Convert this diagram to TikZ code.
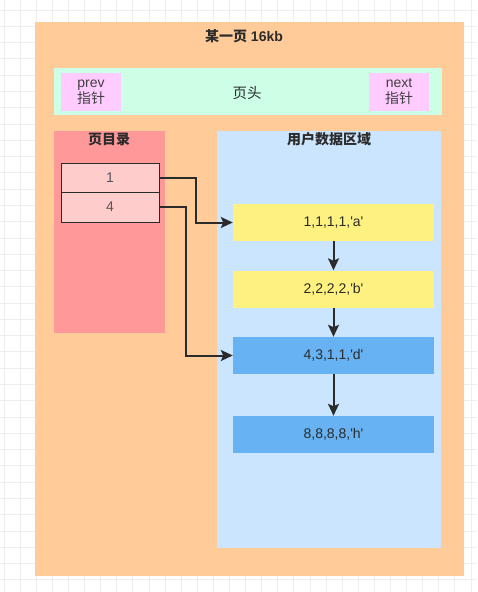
\documentclass[tikz,border=0pt]{standalone}
\usepackage{fontspec}
\setmainfont{Liberation Sans}
\newfontfamily\cjk{Noto Sans CJK SC}
\usetikzlibrary{arrows.meta}
\definecolor{pageorange}{HTML}{FFCC99}
\definecolor{headgreen}{HTML}{CCFFE6}
\definecolor{ptrpink}{HTML}{FFCCFF}
\definecolor{dirred}{HTML}{FF9999}
\definecolor{slotpink}{HTML}{FFCCCC}
\definecolor{userblue}{HTML}{CCE5FF}
\definecolor{rowyellow}{HTML}{FFF180}
\definecolor{rowblue}{HTML}{66B2F2}
\definecolor{inkgray}{HTML}{2B2B2B}
\newcommand{\q}{\textquotesingle}
\begin{document}
\begin{tikzpicture}[x=1pt,y=-1pt,
		area/.style={inner sep=0pt,minimum width=#1},
		ptrbox/.style={fill=ptrpink,inner sep=0pt,minimum width=60pt,minimum height=38pt,align=center,text=inkgray!90,font=\fontsize{14}{16}\selectfont},
		slot/.style={fill=slotpink,draw=inkgray,line width=0.9pt,inner sep=0pt,minimum width=98pt,text=inkgray!80,font=\fontsize{14}{16}\selectfont},
		row/.style={fill=#1,inner sep=0pt,minimum width=201pt,minimum height=37pt,text=inkgray,font=\fontsize{14}{16}\selectfont},
		title/.style={text=inkgray,font=\fontsize{14}{16}\selectfont\bfseries},
		link/.style={draw=inkgray,line width=2pt,-{Stealth[length=12pt,width=11pt,inset=2.5pt]}}]
	\useasboundingbox (0,0) rectangle (477,592);
	\fill[white] (0,0) rectangle (477,592);
	\foreach \gx in {0,...,29} \draw[gray!13,line width=0.8pt] ({4+16.1*\gx},0) -- ({4+16.1*\gx},592);
	\foreach \gy in {0,...,36} \draw[gray!13,line width=0.8pt] (0,{10+16.28*\gy}) -- (477,{10+16.28*\gy});
	
	% page
	\node (page) at (249.5,299)[area=429pt,fill=pageorange,minimum height=554pt]{};
	\node (pagetitle) at (244,36)[title]{{\cjk\bfseries 某一页} 16kb};
	
	% header
	\node (head) at (248,91.5)[area=388pt,fill=headgreen,minimum height=47pt]{};
	\node (prev) at (91,92)[ptrbox]{prev\\{\cjk 指针}};
	\node (next) at (399,92)[ptrbox]{next\\{\cjk 指针}};
	\node (headtext) at (247,93)[text=inkgray,font=\fontsize{14.5}{16}\selectfont\cjk]{页头};
	
	% directory
	\node (dir) at (109.5,232)[area=111pt,fill=dirred,minimum height=202pt]{};
	\node (dirtitle) at (109,139)[title,font=\fontsize{14}{16}\selectfont\cjk\bfseries]{页目录};
	\node (cell1) at (110,177.5)[slot,minimum height=29pt]{1};
	\node (cell4) at (110,207)[slot,minimum height=30pt]{4};
	
	% user records
	\node (user) at (329,339.5)[area=224pt,fill=userblue,minimum height=417pt]{};
	\node (usertitle) at (329,139)[title,font=\fontsize{14}{16}\selectfont\cjk\bfseries]{用户数据区域};
	\node (rowa) at (333.5,222.5)[row=rowyellow]{1,1,1,1,\q a\q};
	\node (rowb) at (333.5,289)[row=rowyellow]{2,2,2,2,\q b\q};
	\node (rowd) at (333.5,355.5)[row=rowblue]{4,3,1,1,\q d\q};
	\node (rowh) at (333.5,434.5)[row=rowblue]{8,8,8,8,\q h\q};
	
	\draw[link] (cell1.east) -- ++(37,0) |- (rowa.west);
	\draw[link] (cell4.east) -- ++(27,0) |- (rowd.west);
	\draw[link] (rowa.south) -- (rowb.north);
	\draw[link] (rowb.south) -- (rowd.north);
	\draw[link] (rowd.south) -- (rowh.north);
\end{tikzpicture}
\end{document}
